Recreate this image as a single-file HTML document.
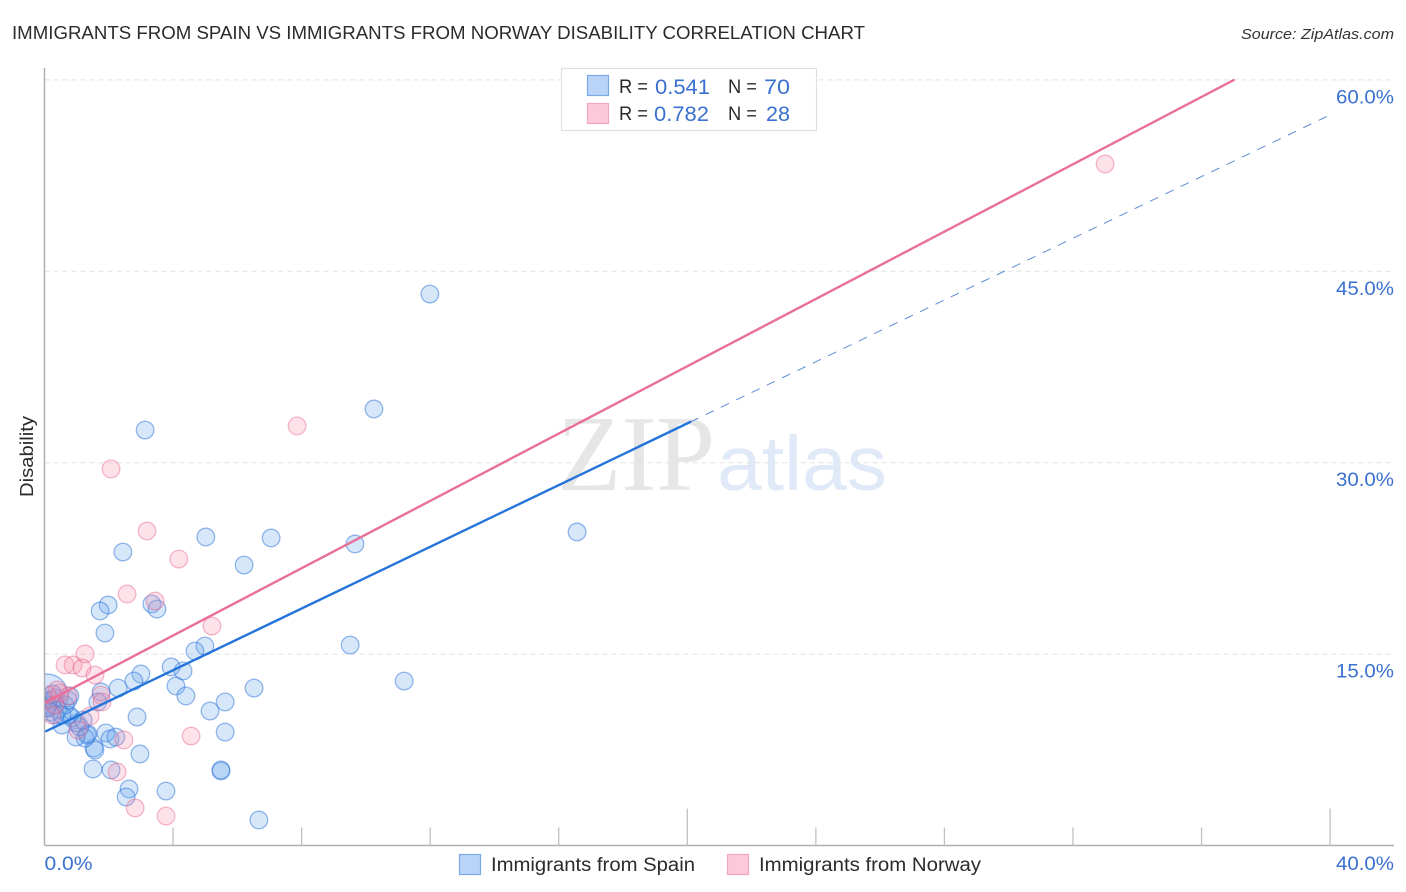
<!DOCTYPE html>
<html lang="en">
<head>
<meta charset="utf-8">
<title>Immigrants from Spain vs Immigrants from Norway Disability Correlation Chart</title>
<style>
html,body{margin:0;padding:0;background:#fff;width:1406px;height:892px;overflow:hidden}
svg{display:block}
text{font-family:"Liberation Sans",sans-serif}
</style>
</head>
<body>
<svg id="chart" xmlns="http://www.w3.org/2000/svg" width="1406" height="892" viewBox="0 0 1406 892">
  <defs>
    <clipPath id="plot-clip"><rect x="45" y="60" width="1349" height="785"/></clipPath>
  </defs>
  <text x="12" y="39" font-size="18.5" fill="#2b2b2b" textLength="853" lengthAdjust="spacingAndGlyphs">IMMIGRANTS FROM SPAIN VS IMMIGRANTS FROM NORWAY DISABILITY CORRELATION CHART</text>
  <text x="1241" y="39" font-size="15" font-style="italic" fill="#333" textLength="153" lengthAdjust="spacingAndGlyphs">Source: ZipAtlas.com</text>

  <g id="watermark">
    <text x="557" y="490" font-size="108" style="font-family:'Liberation Serif',serif" fill="#e6e6e6" textLength="158" lengthAdjust="spacingAndGlyphs">ZIP</text>
    <text x="717" y="490" font-size="77" fill="#dfe9f8" textLength="170" lengthAdjust="spacingAndGlyphs">atlas</text>
  </g>

  <g id="grid"></g>
  <g id="axes"></g>
  <g id="points-spain" clip-path="url(#plot-clip)"></g>
  <g id="points-norway" clip-path="url(#plot-clip)"></g>
  <g id="trends"></g>
  <g id="tick-labels"></g>

  <text transform="translate(33,456.5) rotate(-90)" text-anchor="middle" font-size="18.5" fill="#2b2b2b" textLength="81" lengthAdjust="spacingAndGlyphs">Disability</text>

  <g>
    <rect x="561.5" y="68.5" width="255" height="62" fill="#fff" stroke="#e0e0e0" stroke-width="1.2"/>
    <rect x="587.5" y="75.5" width="21" height="20" fill="#b9d4f8" stroke="#7aa9e6" stroke-width="1.2"/>
    <rect x="587.5" y="103.5" width="21" height="20" fill="#fcc9da" stroke="#f2a7bf" stroke-width="1.2"/>
    <text x="619" y="93" font-size="19.5" fill="#2b2b2b" textLength="29" lengthAdjust="spacingAndGlyphs">R =</text>
    <text x="655" y="94" font-size="21" fill="#3a70cf" textLength="55" lengthAdjust="spacingAndGlyphs">0.541</text>
    <text x="728" y="93" font-size="19.5" fill="#2b2b2b" textLength="29" lengthAdjust="spacingAndGlyphs">N =</text>
    <text x="764" y="94" font-size="21" fill="#3a70cf" textLength="26" lengthAdjust="spacingAndGlyphs">70</text>
    <text x="619" y="120" font-size="19.5" fill="#2b2b2b" textLength="29" lengthAdjust="spacingAndGlyphs">R =</text>
    <text x="654" y="121" font-size="21" fill="#3a70cf" textLength="55" lengthAdjust="spacingAndGlyphs">0.782</text>
    <text x="728" y="120" font-size="19.5" fill="#2b2b2b" textLength="29" lengthAdjust="spacingAndGlyphs">N =</text>
    <text x="766" y="121" font-size="21" fill="#3a70cf" textLength="24" lengthAdjust="spacingAndGlyphs">28</text>
  </g>

  <g>
    <rect x="459.5" y="854.5" width="21" height="20" fill="#b9d4f8" stroke="#7aa9e6" stroke-width="1.2"/>
    <text x="491" y="871" font-size="19" fill="#2b2b2b" textLength="204" lengthAdjust="spacingAndGlyphs">Immigrants from Spain</text>
    <rect x="727.5" y="854.5" width="21" height="20" fill="#fcc9da" stroke="#f2a7bf" stroke-width="1.2"/>
    <text x="759" y="871" font-size="19" fill="#2b2b2b" textLength="222" lengthAdjust="spacingAndGlyphs">Immigrants from Norway</text>
  </g>
</svg>

<script>
const yTickValues = [15, 30, 45, 60];
const yTickLabels = ["15.0%", "30.0%", "45.0%", "60.0%"];
const xTickValues = [4, 8, 12, 16, 20, 24, 28, 32, 36, 40];
const xMajorTicks = [20, 40];
const xEndValues = [0, 40];
const xEndLabels = ["0.0%", "40.0%"];

const spainX = [11.99,10.25,3.13,16.57,5.02,7.05,9.66,2.44,6.21,1.98,1.73,3.34,3.50,1.88,9.51,4.99,4.68,3.94,4.31,3.00,2.78,11.19,2.29,6.52,4.09,4.40,1.76,1.66,5.62,5.15,2.88,5.62,2.97,1.91,2.04,2.22,1.51,2.07,5.49,5.49,2.63,2.54,3.78,6.67,1.54,1.57,1.32,1.35,1.26,0.98,1.10,1.01,0.86,0.54,0.76,1.20,0.08,0.02,0.11,0.23,0.33,0.42,0.17,0.64,0.73,0.54,0.79,0.33,0.08,0.26];
const spainY = [43.22,34.21,32.56,24.57,24.18,24.10,23.63,23.00,21.98,18.85,18.38,18.93,18.53,16.65,15.71,15.63,15.24,13.99,13.68,13.44,12.89,12.89,12.34,12.34,12.50,11.72,12.03,11.25,11.25,10.54,10.07,8.89,7.17,8.82,8.35,8.50,6.00,5.92,5.84,5.92,4.43,3.80,4.27,2.00,7.64,7.48,8.66,8.74,8.42,8.50,9.29,9.60,9.99,9.44,10.23,9.84,11.79,11.40,11.01,11.40,11.56,10.62,10.46,11.01,11.40,10.23,11.72,10.23,10.78,11.87];
const spainLargeIndex = 56;

const norwayX = [33.00,7.86,2.07,3.19,4.18,2.57,3.44,5.21,1.26,0.64,0.89,1.17,1.57,4.56,2.47,2.26,2.82,3.78,1.76,1.79,0.73,0.48,0.39,0.08,0.23,1.42,1.04,0.33];
const norwayY = [53.41,32.88,29.51,24.65,22.45,19.71,19.16,17.20,15.01,14.15,14.15,13.91,13.36,8.58,8.27,5.76,2.94,2.31,11.79,11.25,11.72,11.95,12.19,11.79,10.23,10.15,9.05,11.01];

const spainTrend = [8.9, 1.209];
const spainTrendSolidRange = [0.05, 20.09];
const spainTrendDashedRange = [20.09, 40.09];
const norwayTrend = [11.18, 1.319];
const norwayTrendRange = [0.05, 37.0];

const NS = "http://www.w3.org/2000/svg";
const plotLeft = 44.5, plotRight = 1394, plotTop = 68, plotBottom = 845.5;
const xPerUnit = 32.14, yPerUnit = 12.76;

function xScale(v) { return plotLeft + v * xPerUnit; }
function yScale(v) { return plotBottom - v * yPerUnit; }
function trendY(t, x) { return t[0] + t[1] * x; }

function make(tag, parentId, attrs) {
  const el = document.createElementNS(NS, tag);
  for (const k in attrs) el.setAttribute(k, attrs[k]);
  document.getElementById(parentId).appendChild(el);
  return el;
}

/* gridlines */
yTickValues.forEach(function (v) {
  const g = make("line", "grid", {x1: plotLeft, x2: plotRight, y1: yScale(v), y2: yScale(v), stroke: "#e2e2e2", "stroke-width": 1, "stroke-dasharray": "5 4"});
  
  
});

/* axes */
const yAxis = make("line", "axes", {x1: plotLeft, x2: plotLeft, y1: plotTop, y2: plotBottom, stroke: "#b0b0b0", "stroke-width": 1.5});


const xAxis = make("line", "axes", {x1: plotLeft, x2: plotRight, y1: plotBottom, y2: plotBottom, stroke: "#b0b0b0", "stroke-width": 1.5});


xTickValues.forEach(function (v) {
  const major = xMajorTicks.indexOf(v) >= 0;
  const t = make("line", "axes", {x1: xScale(v), x2: xScale(v), y1: plotBottom - (major ? 37 : 18), y2: plotBottom, stroke: "#c0c0c0", "stroke-width": 1.3});
  
  
});

/* points */
spainX.forEach(function (x, i) {
  const c = make("circle", "points-spain", {cx: xScale(x), cy: yScale(spainY[i]), r: i === spainLargeIndex ? 21 : 8.8, fill: "rgba(105,165,235,0.27)", stroke: "rgba(45,115,215,0.5)", "stroke-width": 1.3});
  
  
});
norwayX.forEach(function (x, i) {
  const c = make("circle", "points-norway", {cx: xScale(x), cy: yScale(norwayY[i]), r: 8.8, fill: "rgba(248,140,170,0.25)", stroke: "rgba(232,100,140,0.45)", "stroke-width": 1.3});
  
  
});

/* trend lines */
const dashedLine = make("line", "trends", {x1: xScale(spainTrendDashedRange[0]), y1: yScale(trendY(spainTrend, spainTrendDashedRange[0])), x2: xScale(spainTrendDashedRange[1]), y2: yScale(trendY(spainTrend, spainTrendDashedRange[1])), stroke: "#5f8bd6", "stroke-width": 1, "stroke-dasharray": "9 8"});


const norwayLine = make("line", "trends", {x1: xScale(norwayTrendRange[0]), y1: yScale(trendY(norwayTrend, norwayTrendRange[0])), x2: xScale(norwayTrendRange[1]), y2: yScale(trendY(norwayTrend, norwayTrendRange[1])), stroke: "#e8709a", "stroke-width": 2.4, "stroke-linecap": "round"});


const spainLine = make("line", "trends", {x1: xScale(spainTrendSolidRange[0]), y1: yScale(trendY(spainTrend, spainTrendSolidRange[0])), x2: xScale(spainTrendSolidRange[1]), y2: yScale(trendY(spainTrend, spainTrendSolidRange[1])), stroke: "#2574d9", "stroke-width": 2.4, "stroke-linecap": "round"});



/* tick labels */
yTickValues.forEach(function (v, i) {
  const t = make("text", "tick-labels", {x: plotRight - 58, y: yScale(v) + 23.5, "font-size": 19.5, fill: "#3a70cf", textLength: 58, lengthAdjust: "spacingAndGlyphs"});
  
  
  t.textContent = yTickLabels[i];
});
xEndValues.forEach(function (v, i) {
  const first = i === 0;
  const t = make("text", "tick-labels", {x: first ? xScale(v) : plotRight - 58, y: 870, "font-size": 19.5, fill: "#3a70cf", textLength: first ? 48 : 58, lengthAdjust: "spacingAndGlyphs"});
  
  
  t.textContent = xEndLabels[i];
});
</script>
</body>
</html>
